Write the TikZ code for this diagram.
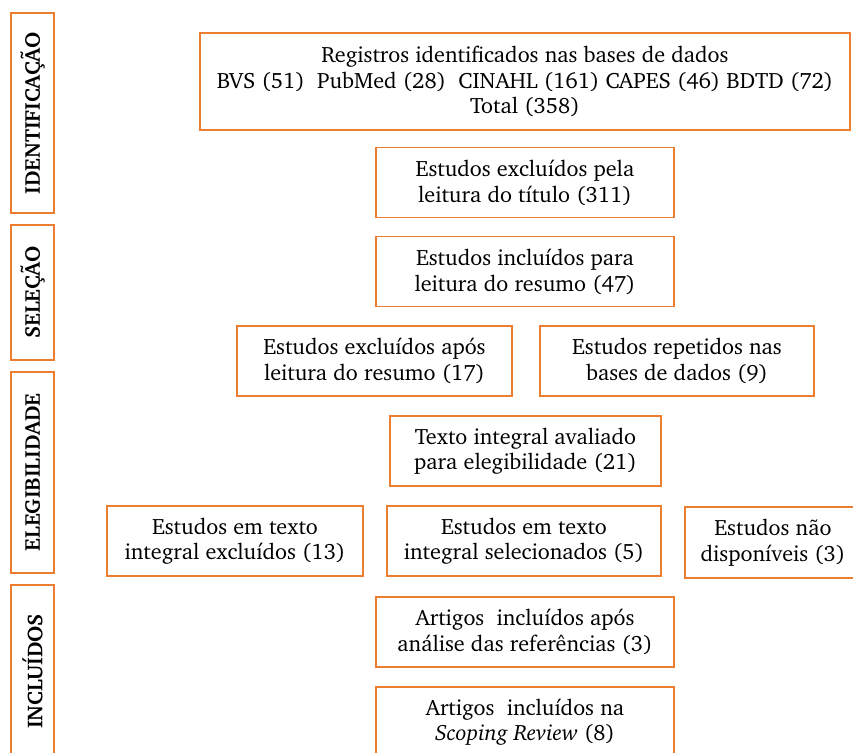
\documentclass[tikz,border=0pt]{standalone}
\usepackage[T1]{fontenc}
\usepackage{charter}
\usepackage{tikz}
\usetikzlibrary{positioning}
\definecolor{boxorange}{RGB}{237,125,49}

\begin{document}
\begin{tikzpicture}[
        x=1pt, y=-1pt,
        % Boxes of the flow
        box/.style={draw=boxorange, line width=1.5pt, align=center,
            inner sep=0pt, minimum height=70pt,
            font=\fontsize{22.2}{25.8}\selectfont},
        % Phase labels down the left side
        phase/.style={draw=boxorange, line width=1.5pt, rotate=90,
            inner sep=0pt, minimum height=43pt,
            font=\bfseries\fontsize{21.5}{24}\selectfont}
    ]
    \useasboundingbox (0,0) rectangle (853,752);

    % phases
    \node[phase, minimum width=200pt] (ident) at (32.5,113) {IDENTIFICAÇÃO};
    \node[phase, minimum width=135pt] (selec) at (32.5,292.5) {SELEÇÃO};
    \node[phase, minimum width=201pt] (eleg) at (32.5,472.5) {ELEGIBILIDADE};
    \node[phase, minimum width=173pt] (incl) at (32.5,671.5) {INCLUÍDOS};

    % flow boxes
    \node[box, minimum width=650pt, minimum height=97pt] (registros) at (525,81.5)
        {Registros identificados nas bases de dados\\
         BVS (51)\ \ PubMed (28)\ \ CINAHL (161) CAPES (46) BDTD (72)\\
         Total (358)};
    \node[box, minimum width=298pt] (exclTitulo) at (525,182.5)
        {Estudos excluídos pela\\ leitura do título (311)};
    \node[box, minimum width=298pt] (inclResumo) at (525,271.5)
        {Estudos incluídos para\\ leitura do resumo (47)};
    \node[box, minimum width=275pt] (exclResumo) at (374.5,361)
        {Estudos excluídos após\\ leitura do resumo (17)};
    \node[box, minimum width=274pt] (repetidos) at (677,361)
        {Estudos repetidos nas\\ bases de dados (9)};
    \node[box, minimum width=271pt] (integral) at (525.5,451)
        {Texto integral avaliado\\ para elegibilidade (21)};
    \node[box, minimum width=256pt] (exclIntegral) at (235,541)
        {Estudos em texto\\ integral excluídos (13)};
    \node[box, minimum width=274pt] (selecionados) at (524,541)
        {Estudos em texto\\ integral selecionados (5)};
    \node[box, minimum width=176pt, minimum height=71pt] (naoDisp) at (773,542.5)
        {Estudos não\\ disponíveis (3)};
    \node[box, minimum width=298pt] (artRef) at (525,632)
        {Artigos\ \ incluídos após\\ análise das referências (3)};
    \node[box, minimum width=298pt] (artScoping) at (525,722)
        {Artigos\ \ incluídos na\\ \textit{Scoping Review} (8)};
\end{tikzpicture}
\end{document}
